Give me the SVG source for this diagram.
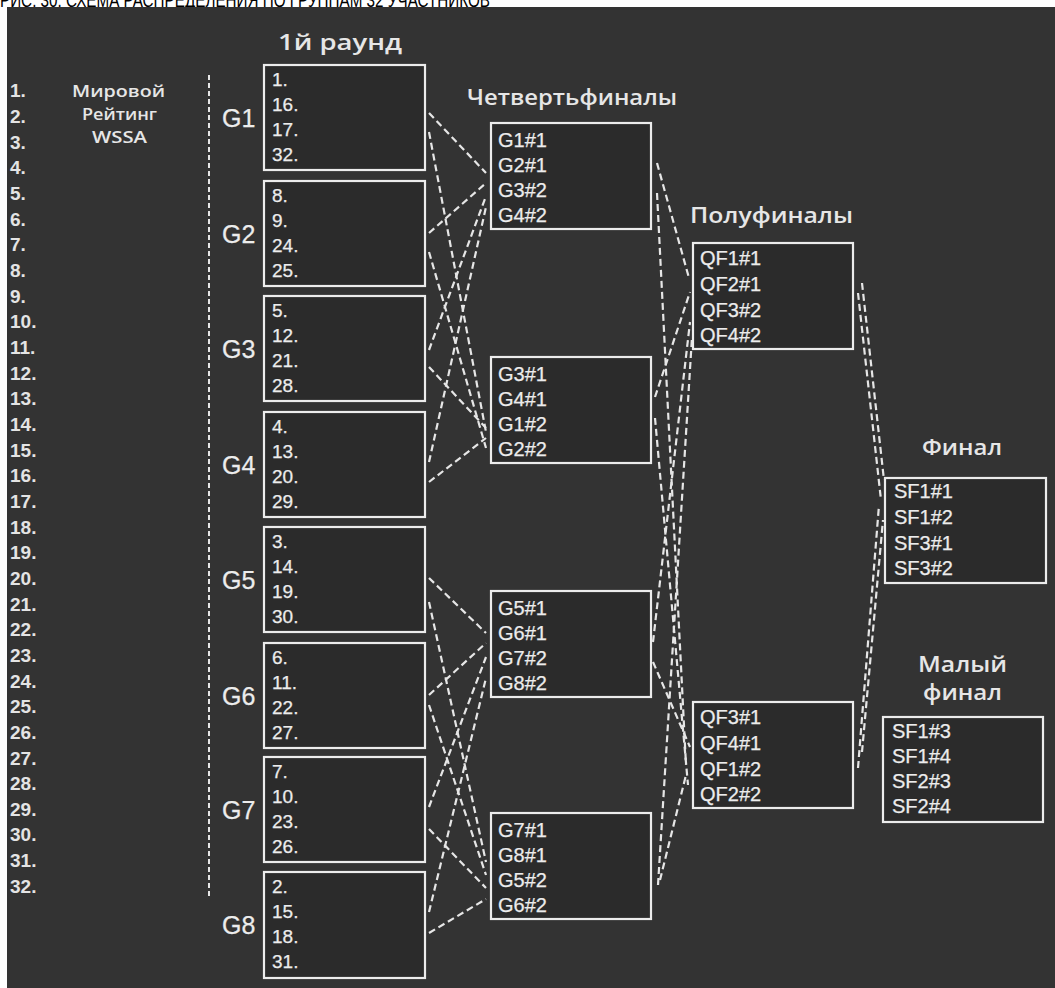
<svg xmlns="http://www.w3.org/2000/svg" width="1055" height="988" viewBox="0 0 1055 988">
<style>
.page{fill:#ffffff}
.bg{fill:#333333}
.box{fill:#2b2b2b;stroke:#ececec;stroke-width:2.2}
.t{font-family:"Liberation Sans",Arial,sans-serif;fill:#ececec;font-size:19px;stroke:#ececec;stroke-width:0.25}
.c{font-size:20px}
.num{font-weight:bold;font-size:19px;fill:#e4e4e4;stroke:none}
.g{font-size:25px}
.ttl{font-family:"Open Sans","Liberation Sans",sans-serif;font-weight:600;fill:#e6e6e6}
.cap{font-family:"Liberation Sans",Arial,sans-serif;fill:#000000;font-size:20px}
.conn line{stroke:#e6e6e6;stroke-width:2.2;stroke-dasharray:7 4;fill:none}
.axis{stroke:#e6e6e6;stroke-width:2;stroke-dasharray:5 3}
</style>
<rect class="page" x="0" y="0" width="1055" height="988"/>
<text class="cap" x="0" y="6.5" textLength="490" lengthAdjust="spacingAndGlyphs">РИС. 30. СХЕМА РАСПРЕДЕЛЕНИЯ ПО ГРУППАМ 32 УЧАСТНИКОВ</text>
<rect class="bg" x="7" y="7" width="1048" height="981"/>

<g id="ranking">
<text class="t num">
<tspan x="10" y="97.3">1.</tspan><tspan x="10" y="123.0">2.</tspan><tspan x="10" y="148.6">3.</tspan><tspan x="10" y="174.3">4.</tspan>
<tspan x="10" y="199.9">5.</tspan><tspan x="10" y="225.6">6.</tspan><tspan x="10" y="251.3">7.</tspan><tspan x="10" y="276.9">8.</tspan>
<tspan x="10" y="302.6">9.</tspan><tspan x="10" y="328.2">10.</tspan><tspan x="10" y="353.9">11.</tspan><tspan x="10" y="379.6">12.</tspan>
<tspan x="10" y="405.2">13.</tspan><tspan x="10" y="430.9">14.</tspan><tspan x="10" y="456.5">15.</tspan><tspan x="10" y="482.2">16.</tspan>
<tspan x="10" y="507.9">17.</tspan><tspan x="10" y="533.5">18.</tspan><tspan x="10" y="559.2">19.</tspan><tspan x="10" y="584.8">20.</tspan>
<tspan x="10" y="610.5">21.</tspan><tspan x="10" y="636.2">22.</tspan><tspan x="10" y="661.8">23.</tspan><tspan x="10" y="687.5">24.</tspan>
<tspan x="10" y="713.1">25.</tspan><tspan x="10" y="738.8">26.</tspan><tspan x="10" y="764.5">27.</tspan><tspan x="10" y="790.1">28.</tspan>
<tspan x="10" y="815.8">29.</tspan><tspan x="10" y="841.4">30.</tspan><tspan x="10" y="867.1">31.</tspan><tspan x="10" y="892.8">32.</tspan>
</text>
<text class="ttl" x="72" y="97" font-size="16" font-weight="700" textLength="93" lengthAdjust="spacingAndGlyphs">Мировой</text>
<text class="ttl" x="82" y="120" font-size="16" font-weight="700" textLength="75" lengthAdjust="spacingAndGlyphs">Рейтинг</text>
<text class="ttl" x="92" y="142.5" font-size="16" font-weight="700" textLength="55" lengthAdjust="spacingAndGlyphs">WSSA</text>
<line class="axis" x1="209" y1="75" x2="209" y2="897"/>
</g>

<g id="titles">
<text class="ttl" x="278" y="50" font-size="21" textLength="124" lengthAdjust="spacingAndGlyphs">1й раунд</text>
<text class="ttl" x="467" y="105" font-size="22" textLength="210" lengthAdjust="spacingAndGlyphs">Четвертьфиналы</text>
<text class="ttl" x="690" y="223" font-size="22" textLength="163" lengthAdjust="spacingAndGlyphs">Полуфиналы</text>
<text class="ttl" x="922" y="455" font-size="22" textLength="80" lengthAdjust="spacingAndGlyphs">Финал</text>
<text class="ttl" x="918" y="672" font-size="22" textLength="89" lengthAdjust="spacingAndGlyphs">Малый</text>
<text class="ttl" x="923" y="700" font-size="22" textLength="79" lengthAdjust="spacingAndGlyphs">финал</text>
</g>

<g id="connectors" class="conn">
<line x1="429" y1="113" x2="486" y2="173"/>
<line x1="429" y1="233" x2="486" y2="183"/>
<line x1="429" y1="350" x2="486" y2="196"/>
<line x1="429" y1="462" x2="486" y2="207"/>
<line x1="429" y1="132" x2="486" y2="432"/>
<line x1="429" y1="252" x2="486" y2="448"/>
<line x1="429" y1="367" x2="486" y2="428"/>
<line x1="429" y1="482" x2="486" y2="438"/>
<line x1="429" y1="578" x2="486" y2="633"/>
<line x1="429" y1="695" x2="486" y2="643"/>
<line x1="429" y1="807" x2="486" y2="657"/>
<line x1="429" y1="912" x2="486" y2="678"/>
<line x1="429" y1="602" x2="486" y2="862"/>
<line x1="429" y1="705" x2="486" y2="875"/>
<line x1="429" y1="829" x2="486" y2="888"/>
<line x1="429" y1="933" x2="486" y2="899"/>
<line x1="657" y1="163" x2="689" y2="278"/>
<line x1="657" y1="193" x2="686" y2="765"/>
<line x1="655" y1="397" x2="690" y2="292"/>
<line x1="655" y1="418" x2="688" y2="785"/>
<line x1="653" y1="642" x2="690" y2="322"/>
<line x1="653" y1="662" x2="690" y2="747"/>
<line x1="658" y1="885" x2="692" y2="337"/>
<line x1="660" y1="880" x2="686" y2="775"/>
<line x1="862" y1="283" x2="884" y2="480"/>
<line x1="858" y1="293" x2="881" y2="500"/>
<line x1="858" y1="768" x2="879" y2="505"/>
<line x1="862" y1="752" x2="883" y2="520"/>
</g>

<g id="G1"><rect class="box" x="264" y="65" width="161" height="105"/><text class="t g" x="222" y="127">G1</text>
<text class="t"><tspan x="272" y="86">1.</tspan><tspan x="272" y="111">16.</tspan><tspan x="272" y="136">17.</tspan><tspan x="272" y="161">32.</tspan></text></g>
<g id="G2"><rect class="box" x="264" y="181" width="161" height="105"/><text class="t g" x="222" y="243">G2</text>
<text class="t"><tspan x="272" y="202">8.</tspan><tspan x="272" y="227">9.</tspan><tspan x="272" y="252">24.</tspan><tspan x="272" y="277">25.</tspan></text></g>
<g id="G3"><rect class="box" x="264" y="296" width="161" height="105"/><text class="t g" x="222" y="358">G3</text>
<text class="t"><tspan x="272" y="317">5.</tspan><tspan x="272" y="342">12.</tspan><tspan x="272" y="367">21.</tspan><tspan x="272" y="392">28.</tspan></text></g>
<g id="G4"><rect class="box" x="264" y="412" width="161" height="105"/><text class="t g" x="222" y="474">G4</text>
<text class="t"><tspan x="272" y="433">4.</tspan><tspan x="272" y="458">13.</tspan><tspan x="272" y="483">20.</tspan><tspan x="272" y="508">29.</tspan></text></g>
<g id="G5"><rect class="box" x="264" y="527" width="161" height="105"/><text class="t g" x="222" y="589">G5</text>
<text class="t"><tspan x="272" y="548">3.</tspan><tspan x="272" y="573">14.</tspan><tspan x="272" y="598">19.</tspan><tspan x="272" y="623">30.</tspan></text></g>
<g id="G6"><rect class="box" x="264" y="643" width="161" height="105"/><text class="t g" x="222" y="705">G6</text>
<text class="t"><tspan x="272" y="664">6.</tspan><tspan x="272" y="689">11.</tspan><tspan x="272" y="714">22.</tspan><tspan x="272" y="739">27.</tspan></text></g>
<g id="G7"><rect class="box" x="264" y="757" width="161" height="105"/><text class="t g" x="222" y="819">G7</text>
<text class="t"><tspan x="272" y="778">7.</tspan><tspan x="272" y="803">10.</tspan><tspan x="272" y="828">23.</tspan><tspan x="272" y="853">26.</tspan></text></g>
<g id="G8"><rect class="box" x="264" y="872" width="161" height="106"/><text class="t g" x="222" y="934">G8</text>
<text class="t"><tspan x="272" y="893">2.</tspan><tspan x="272" y="918">15.</tspan><tspan x="272" y="943">18.</tspan><tspan x="272" y="968">31.</tspan></text></g>

<g id="QF1"><rect class="box" x="491" y="123" width="160" height="106"/>
<text class="t c"><tspan x="498" y="147">G1#1</tspan><tspan x="498" y="172">G2#1</tspan><tspan x="498" y="197">G3#2</tspan><tspan x="498" y="222">G4#2</tspan></text></g>
<g id="QF2"><rect class="box" x="491" y="357" width="160" height="106"/>
<text class="t c"><tspan x="498" y="381">G3#1</tspan><tspan x="498" y="406">G4#1</tspan><tspan x="498" y="431">G1#2</tspan><tspan x="498" y="456">G2#2</tspan></text></g>
<g id="QF3"><rect class="box" x="491" y="591" width="160" height="106"/>
<text class="t c"><tspan x="498" y="615">G5#1</tspan><tspan x="498" y="640">G6#1</tspan><tspan x="498" y="665">G7#2</tspan><tspan x="498" y="690">G8#2</tspan></text></g>
<g id="QF4"><rect class="box" x="491" y="813" width="160" height="106"/>
<text class="t c"><tspan x="498" y="837">G7#1</tspan><tspan x="498" y="862">G8#1</tspan><tspan x="498" y="887">G5#2</tspan><tspan x="498" y="912">G6#2</tspan></text></g>

<g id="SF1"><rect class="box" x="693" y="243" width="160" height="106"/>
<text class="t c"><tspan x="700" y="265">QF1#1</tspan><tspan x="700" y="291">QF2#1</tspan><tspan x="700" y="317">QF3#2</tspan><tspan x="700" y="342">QF4#2</tspan></text></g>
<g id="SF2"><rect class="box" x="693" y="702" width="160" height="106"/>
<text class="t c"><tspan x="700" y="724">QF3#1</tspan><tspan x="700" y="750">QF4#1</tspan><tspan x="700" y="776">QF1#2</tspan><tspan x="700" y="801">QF2#2</tspan></text></g>

<g id="final"><rect class="box" x="885" y="478" width="161" height="105"/>
<text class="t c"><tspan x="894" y="498">SF1#1</tspan><tspan x="894" y="524">SF1#2</tspan><tspan x="894" y="549.5">SF3#1</tspan><tspan x="894" y="575">SF3#2</tspan></text></g>
<g id="small-final"><rect class="box" x="883" y="717" width="160" height="105"/>
<text class="t c"><tspan x="892" y="738">SF1#3</tspan><tspan x="892" y="763">SF1#4</tspan><tspan x="892" y="788">SF2#3</tspan><tspan x="892" y="813">SF2#4</tspan></text></g>
</svg>
